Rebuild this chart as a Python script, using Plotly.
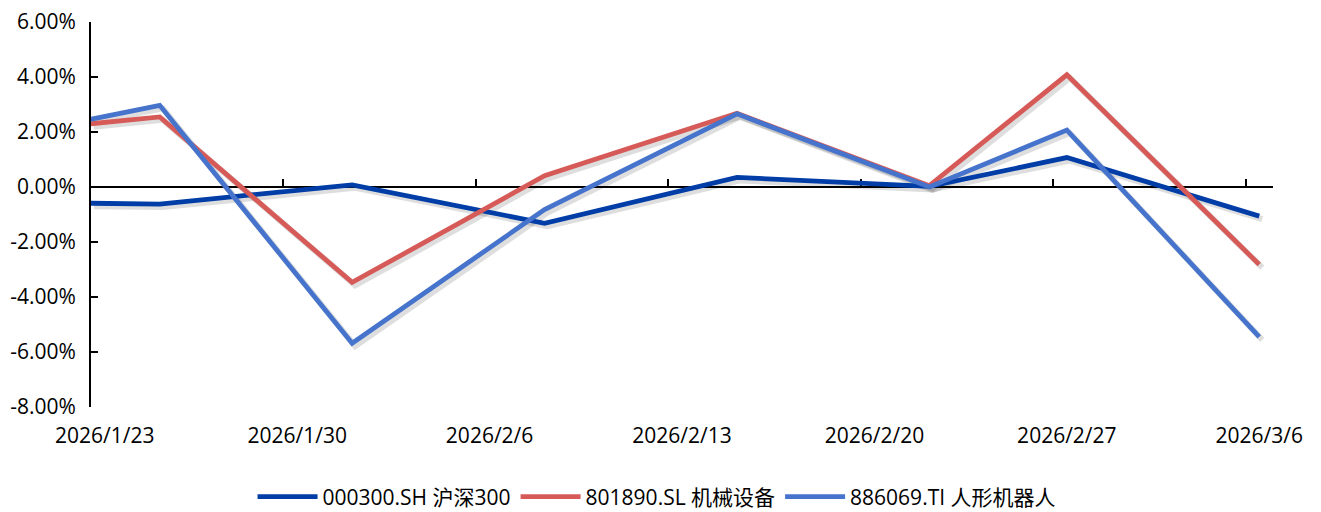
import plotly.graph_objects as go
from datetime import datetime, timedelta

# ---- data ----
dates = ["2026-01-18", "2026-01-25", "2026-02-01", "2026-02-08", "2026-02-15",
         "2026-02-22", "2026-02-27", "2026-03-06"]
hs300 = [-0.54, -0.62, 0.08, -1.32, 0.35, 0.02, 1.07, -1.06]
machinery = [1.85, 2.55, -3.47, 0.41, 2.68, 0.05, 4.08, -2.82]
humanoid = [1.55, 2.97, -5.68, -0.82, 2.66, 0.0, 2.07, -5.45]
series_names = ["000300.SH 沪深300", "801890.SL 机械设备", "886069.TI 人形机器人"]
colors = ["#003DA6", "#D65A58", "#4674CC"]

tick_dates = ["2026-01-23", "2026-01-30", "2026-02-06", "2026-02-13",
              "2026-02-20", "2026-02-27", "2026-03-06"]
tick_labels = ["2026/1/23", "2026/1/30", "2026/2/6", "2026/2/13",
               "2026/2/20", "2026/2/27", "2026/3/6"]
y_ticks = [-8, -6, -4, -2, 0, 2, 4, 6]

# ---- geometry ----
W, H = 1321, 512
ml, mr, mt, mb = 91, 45, 22, 102
pw = W - ml - mr
ph = H - mt - mb
sh = 3  # shadow offset px
dx = sh / pw
dy = sh / ph

def shift(d, hours):
    return (datetime.fromisoformat(d) + timedelta(hours=hours)).strftime("%Y-%m-%d %H:%M")

xrange_ = [shift(tick_dates[0], -12), shift(tick_dates[-1], 12)]
yrange_ = [-8, 6]
slot_ticks = [shift(d, -12) for d in tick_dates]

fig = go.Figure()
all_series = [hs300, machinery, humanoid]

# shadows (base subplot)
for vals in all_series:
    fig.add_trace(go.Scatter(x=dates, y=vals, mode="lines", xaxis="x", yaxis="y",
                             line=dict(color="rgba(0,0,0,0.13)", width=6),
                             showlegend=False, hoverinfo="skip"))
# empty trace so the zero-crossing category axis (x3) gets drawn
fig.add_trace(go.Scatter(x=[None], y=[None], mode="lines", xaxis="x3", yaxis="y2",
                         showlegend=False, hoverinfo="skip"))
# real lines
for name, vals, c in zip(series_names, all_series, colors):
    fig.add_trace(go.Scatter(x=dates, y=vals, mode="lines", name=name,
                             xaxis="x2", yaxis="y2",
                             line=dict(color=c, width=4.8)))

font_family = "Open Sans, Noto Sans CJK SC, sans-serif"
fig.update_layout(
    width=W, height=H,
    margin=dict(l=ml, r=mr, t=mt, b=mb, pad=0, autoexpand=False),
    paper_bgcolor="white", plot_bgcolor="rgba(0,0,0,0)",
    font=dict(family=font_family, size=21, color="#000000"),
    xaxis=dict(domain=[dx, 1], range=xrange_, type="date", visible=False, anchor="y",
               automargin=False),
    yaxis=dict(domain=[0, 1 - dy], range=yrange_, visible=False, anchor="x",
               automargin=False),
    xaxis2=dict(domain=[0, 1 - dx], range=xrange_, type="date", anchor="y2",
                automargin=False,
                showline=False, showgrid=False, zeroline=False,
                tickmode="array", tickvals=tick_dates, ticktext=tick_labels,
                ticks="outside", ticklen=10, tickcolor="rgba(0,0,0,0)",
                tickfont=dict(size=21, color="#000")),
    yaxis2=dict(domain=[dy, 1], range=yrange_, anchor="x2", automargin=False,
                showline=True, linecolor="#000", linewidth=2,
                showgrid=False, zeroline=False, layer="below traces",
                tickmode="array", tickvals=y_ticks,
                ticktext=[f"{v:.2f}%" for v in y_ticks],
                ticks="inside", ticklen=7, tickwidth=2, tickcolor="#000",
                ticklabelstandoff=9,
                tickfont=dict(size=21, color="#000")),
    xaxis3=dict(overlaying="x2", domain=[0, 1 - dx], anchor="free", automargin=False,
                position=dy + (1 - dy) * (0 - yrange_[0]) / (yrange_[1] - yrange_[0]),
                type="date", range=xrange_, layer="below traces",
                showline=True, linecolor="#000", linewidth=2,
                showgrid=False, zeroline=False, showticklabels=False,
                tickmode="array", tickvals=slot_ticks,
                ticks="inside", ticklen=7, tickwidth=2, tickcolor="#000"),
    legend=dict(orientation="h", xref="container", yref="container",
                x=0.497, xanchor="center",
                y=1 - 497 / H, yanchor="middle",
                font=dict(family=font_family, size=21, color="#000"),
                bgcolor="rgba(0,0,0,0)", itemwidth=60, tracegroupgap=0),
    showlegend=True,
)

fig.write_html("out.html", config={"displayModeBar": False},
               post_script="document.body.style.margin='0';")
